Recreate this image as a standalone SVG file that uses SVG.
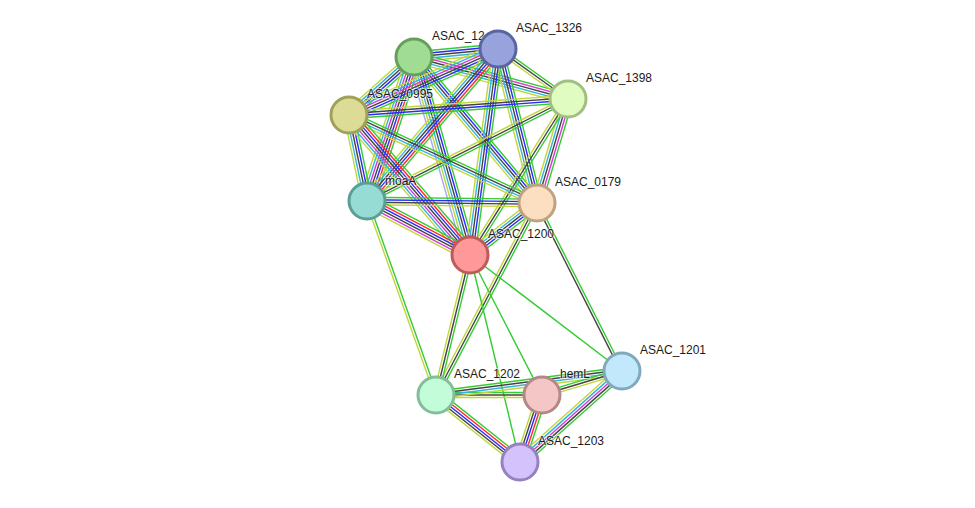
<svg xmlns="http://www.w3.org/2000/svg" width="975" height="508" viewBox="0 0 975 508">
<style>
.e path{fill:none;stroke-width:1.4}
.g{stroke:#33cc33}.r{stroke:#ff2a2a}.b{stroke:#2a2aff}.k{stroke:#444444}.m{stroke:#d23cd2}.c{stroke:#33b4dc}.y{stroke:#c2d63c}.h{stroke:#a8a8f4}
.n circle{stroke-width:3}
.n text{font-family:"Liberation Sans",Arial,sans-serif;font-size:12px;fill:#1a1a1a;stroke:#ffffff;stroke-width:2;stroke-opacity:0.55;paint-order:stroke}
</style>
<rect width="975" height="508" fill="#ffffff"/>
<g id="edges" class="e">
<!-- A-B -->
<g transform="translate(414 57) rotate(-5.44)"><path class="g" d="M0 -5H84.4"/><path class="b" d="M0 -2.5H84.4"/><path class="k" d="M0 0H84.4"/><path class="c" d="M0 2.5H84.4"/><path class="y" d="M0 5H84.4"/></g>
<!-- A-C -->
<g transform="translate(414 57) rotate(15.26)"><path class="g" d="M0 -5H159.6"/><path class="m" d="M0 -2.5H159.6"/><path class="k" d="M0 0H159.6"/><path class="c" d="M0 2.5H159.6"/><path class="y" d="M0 5H159.6"/></g>
<!-- A-D -->
<g transform="translate(414 57) rotate(138.26)"><path class="g" d="M0 -5H87.1"/><path class="b" d="M0 -2.5H87.1"/><path class="k" d="M0 0H87.1"/><path class="c" d="M0 2.5H87.1"/><path class="y" d="M0 5H87.1"/></g>
<!-- A-E -->
<g transform="translate(414 57) rotate(108.08)"><path class="g" d="M0 -7.5H151.5"/><path class="r" d="M0 -5H151.5"/><path class="b" d="M0 -2.5H151.5"/><path class="k" d="M0 0H151.5"/><path class="m" d="M0 2.5H151.5"/><path class="c" d="M0 5H151.5"/><path class="y" d="M0 7.5H151.5"/></g>
<!-- A-F -->
<g transform="translate(414 57) rotate(49.89)"><path class="g" d="M0 -5H190.9"/><path class="b" d="M0 -2.5H190.9"/><path class="k" d="M0 0H190.9"/><path class="c" d="M0 2.5H190.9"/><path class="y" d="M0 5H190.9"/></g>
<!-- A-G -->
<g transform="translate(414 57) rotate(74.21)"><path class="g" d="M0 -6.25H205.8"/><path class="b" d="M0 -3.75H205.8"/><path class="k" d="M0 -1.25H205.8"/><path class="c" d="M0 1.25H205.8"/><path class="y" d="M0 3.75H205.8"/><path class="h" d="M0 6.25H205.8"/></g>
<!-- B-C -->
<g transform="translate(498 49) rotate(35.54)"><path class="g" d="M0 -2.5H86"/><path class="k" d="M0 0H86"/><path class="y" d="M0 2.5H86"/></g>
<!-- B-D -->
<g transform="translate(498 49) rotate(156.11)"><path class="g" d="M0 -6.25H163"/><path class="b" d="M0 -3.75H163"/><path class="k" d="M0 -1.25H163"/><path class="m" d="M0 1.25H163"/><path class="c" d="M0 3.75H163"/><path class="y" d="M0 6.25H163"/></g>
<!-- B-E -->
<g transform="translate(498 49) rotate(130.75)"><path class="g" d="M0 -6.25H200.7"/><path class="r" d="M0 -3.75H200.7"/><path class="b" d="M0 -1.25H200.7"/><path class="k" d="M0 1.25H200.7"/><path class="c" d="M0 3.75H200.7"/><path class="y" d="M0 6.25H200.7"/></g>
<!-- B-F -->
<g transform="translate(498 49) rotate(75.79)"><path class="g" d="M0 -5H158.9"/><path class="b" d="M0 -2.5H158.9"/><path class="k" d="M0 0H158.9"/><path class="c" d="M0 2.5H158.9"/><path class="y" d="M0 5H158.9"/></g>
<!-- B-G -->
<g transform="translate(498 49) rotate(97.74)"><path class="g" d="M0 -5H207.9"/><path class="b" d="M0 -2.5H207.9"/><path class="k" d="M0 0H207.9"/><path class="c" d="M0 2.5H207.9"/><path class="y" d="M0 5H207.9"/></g>
<!-- C-D -->
<g transform="translate(568 99) rotate(175.82)"><path class="g" d="M0 -3.75H219.6"/><path class="b" d="M0 -1.25H219.6"/><path class="k" d="M0 1.25H219.6"/><path class="y" d="M0 3.75H219.6"/></g>
<!-- C-E -->
<g transform="translate(568 99) rotate(153.09)"><path class="g" d="M0 -2.5H225.4"/><path class="k" d="M0 0H225.4"/><path class="y" d="M0 2.5H225.4"/></g>
<!-- C-F -->
<g transform="translate(568 99) rotate(106.6)"><path class="g" d="M0 -5H108.5"/><path class="m" d="M0 -2.5H108.5"/><path class="k" d="M0 0H108.5"/><path class="c" d="M0 2.5H108.5"/><path class="y" d="M0 5H108.5"/></g>
<!-- C-G -->
<g transform="translate(568 99) rotate(122.14)"><path class="g" d="M0 -2.5H184.2"/><path class="k" d="M0 0H184.2"/><path class="y" d="M0 2.5H184.2"/></g>
<!-- D-E -->
<g transform="translate(349 115) rotate(78.18)"><path class="g" d="M0 -5H87.9"/><path class="b" d="M0 -2.5H87.9"/><path class="k" d="M0 0H87.9"/><path class="c" d="M0 2.5H87.9"/><path class="y" d="M0 5H87.9"/></g>
<!-- D-F -->
<g transform="translate(349 115) rotate(25.08)"><path class="g" d="M0 -3.75H207.6"/><path class="k" d="M0 -1.25H207.6"/><path class="c" d="M0 1.25H207.6"/><path class="y" d="M0 3.75H207.6"/></g>
<!-- D-G -->
<g transform="translate(349 115) rotate(49.17)"><path class="g" d="M0 -7.5H185"/><path class="r" d="M0 -5H185"/><path class="b" d="M0 -2.5H185"/><path class="k" d="M0 0H185"/><path class="m" d="M0 2.5H185"/><path class="c" d="M0 5H185"/><path class="y" d="M0 7.5H185"/></g>
<!-- E-F -->
<g transform="translate(367 201) rotate(0.67)"><path class="g" d="M0 -3.75H170"/><path class="b" d="M0 -1.25H170"/><path class="k" d="M0 1.25H170"/><path class="y" d="M0 3.75H170"/></g>
<!-- E-G -->
<g transform="translate(367 201) rotate(27.67)"><path class="g" d="M0 -6.25H116.3"/><path class="r" d="M0 -3.75H116.3"/><path class="b" d="M0 -1.25H116.3"/><path class="k" d="M0 1.25H116.3"/><path class="m" d="M0 3.75H116.3"/><path class="y" d="M0 6.25H116.3"/></g>
<!-- F-G -->
<g transform="translate(537 203) rotate(142.19)"><path class="g" d="M0 -5H84.8"/><path class="b" d="M0 -2.5H84.8"/><path class="k" d="M0 0H84.8"/><path class="c" d="M0 2.5H84.8"/><path class="y" d="M0 5H84.8"/></g>
<!-- E-J -->
<g transform="translate(367 201) rotate(70.42)"><path class="g" d="M0 -1.25H205.9"/><path class="y" d="M0 1.25H205.9"/></g>
<!-- F-J -->
<g transform="translate(537 203) rotate(117.75)"><path class="g" d="M0 -2.5H216.9"/><path class="k" d="M0 0H216.9"/><path class="y" d="M0 2.5H216.9"/></g>
<!-- F-H -->
<g transform="translate(537 203) rotate(63.16)"><path class="g" d="M0 -1.25H188.3"/><path class="k" d="M0 1.25H188.3"/></g>
<!-- G-J -->
<g transform="translate(470 255) rotate(103.65)"><path class="g" d="M0 -2.5H144.1"/><path class="k" d="M0 0H144.1"/><path class="y" d="M0 2.5H144.1"/></g>
<!-- G-K -->
<g transform="translate(470 255) rotate(76.42)"><path class="g" d="M0 0H213"/></g>
<!-- G-I -->
<g transform="translate(470 255) rotate(62.78)"><path class="g" d="M0 0H157.4"/></g>
<!-- G-H -->
<g transform="translate(470 255) rotate(37.35)"><path class="g" d="M0 0H191.2"/></g>
<!-- J-I -->
<g transform="translate(436 395)"><path class="g" d="M0 -2.5H106"/><path class="k" d="M0 0H106"/><path class="y" d="M0 2.5H106"/></g>
<!-- J-H -->
<g transform="translate(436 395) rotate(-7.35)"><path class="g" d="M0 -3.75H187.5"/><path class="k" d="M0 -1.25H187.5"/><path class="c" d="M0 1.25H187.5"/><path class="y" d="M0 3.75H187.5"/></g>
<!-- I-H -->
<g transform="translate(542 395) rotate(-16.7)"><path class="g" d="M0 -2.5H83.5"/><path class="k" d="M0 0H83.5"/><path class="y" d="M0 2.5H83.5"/></g>
<!-- J-K -->
<g transform="translate(436 395) rotate(38.58)"><path class="g" d="M0 -5H107.4"/><path class="r" d="M0 -2.5H107.4"/><path class="b" d="M0 0H107.4"/><path class="k" d="M0 2.5H107.4"/><path class="y" d="M0 5H107.4"/></g>
<!-- I-K -->
<g transform="translate(542 395) rotate(108.18)"><path class="g" d="M0 -5H70.5"/><path class="r" d="M0 -2.5H70.5"/><path class="b" d="M0 0H70.5"/><path class="k" d="M0 2.5H70.5"/><path class="y" d="M0 5H70.5"/></g>
<!-- H-K -->
<g transform="translate(622 371) rotate(138.27)"><path class="g" d="M0 -5H136.7"/><path class="k" d="M0 -2.5H136.7"/><path class="m" d="M0 0H136.7"/><path class="c" d="M0 2.5H136.7"/><path class="y" d="M0 5H136.7"/></g>
</g>
<g id="nodes" class="n">
<g id="ASAC_0995"><circle cx="349" cy="115" r="18" fill="#dcdc96" stroke="#a0a05a"/><text x="367" y="98">ASAC_0995</text></g>
<g id="moaA"><circle cx="367" cy="201" r="18" fill="#96dcd4" stroke="#5a9e96"/><text x="385" y="185">moaA</text></g>
<g id="ASAC_12xx"><circle cx="414" cy="57" r="18" fill="#a0dc94" stroke="#64a05a"/><text x="432" y="40">ASAC_12</text></g>
<g id="ASAC_1326"><circle cx="498" cy="49" r="18" fill="#98a2dc" stroke="#5a64a0"/><text x="516" y="32">ASAC_1326</text></g>
<g id="ASAC_1398"><circle cx="568" cy="99" r="18" fill="#e0fcc0" stroke="#a2be82"/><text x="586" y="82">ASAC_1398</text></g>
<g id="ASAC_0179"><circle cx="537" cy="203" r="18" fill="#fcdec0" stroke="#bea282"/><text x="555" y="186">ASAC_0179</text></g>
<g id="ASAC_1200"><circle cx="470" cy="255" r="18" fill="#ff9898" stroke="#c05a5a"/><text x="488" y="238">ASAC_1200</text></g>
<g id="ASAC_1201"><circle cx="622" cy="371" r="18" fill="#c2e8fc" stroke="#82a8be"/><text x="640" y="354">ASAC_1201</text></g>
<g id="ASAC_1202"><circle cx="436" cy="395" r="18" fill="#c2fcd8" stroke="#82be98"/><text x="454" y="378">ASAC_1202</text></g>
<g id="hemL"><circle cx="542" cy="395" r="18" fill="#f4c6c6" stroke="#b48888"/><text x="560" y="378">hemL</text></g>
<g id="ASAC_1203"><circle cx="520" cy="462" r="18" fill="#d4c2fc" stroke="#9682c0"/><text x="538" y="445">ASAC_1203</text></g>
</g>
</svg>
